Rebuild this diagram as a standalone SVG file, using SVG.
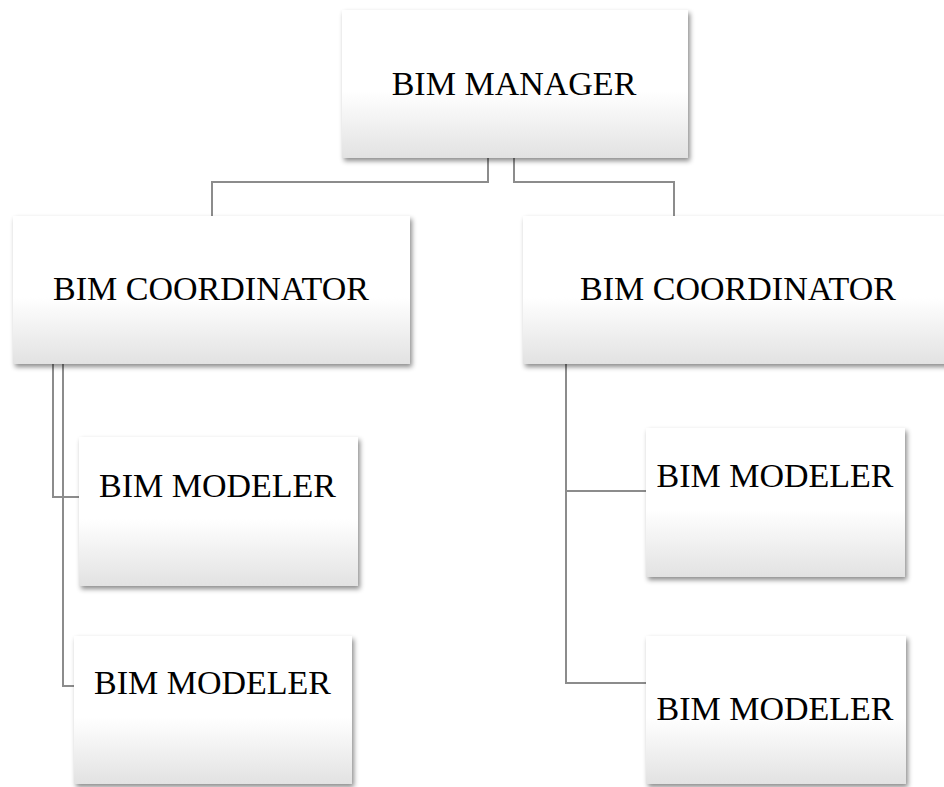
<svg xmlns="http://www.w3.org/2000/svg" width="944" height="787" viewBox="0 0 944 787">
<defs>
<linearGradient id="g" x1="0" y1="0" x2="0" y2="1">
<stop offset="0" stop-color="#ffffff"/>
<stop offset="0.55" stop-color="#ffffff"/>
<stop offset="1" stop-color="#e2e2e2"/>
</linearGradient>
<filter id="sh" x="-10%" y="-10%" width="125%" height="130%">
<feDropShadow dx="2" dy="3" stdDeviation="2.5" flood-color="#000" flood-opacity="0.45"/>
</filter>
</defs>
<style>
.box{fill:url(#g);filter:url(#sh);}
.t{font-family:"Liberation Serif","Times New Roman",serif;font-size:34px;fill:#000;text-anchor:middle;}
.c{fill:none;stroke:#8c8c8c;stroke-width:2;}
</style>
<rect width="944" height="787" fill="#fff"/>
<g id="connectors">
<polyline class="c" points="488,158 488,182 212,182 212,216"/>
<polyline class="c" points="514,158 514,182 674,182 674,216"/>
<polyline class="c" points="53,364 53,497 79,497"/>
<polyline class="c" points="63,364 63,686 74,686"/>
<polyline class="c" points="566,364 566,683 646,683"/>
<polyline class="c" points="566,491 646,491"/>
</g>
<g id="manager">
<rect class="box" x="342" y="10" width="346" height="148"/>
<text class="t" x="514" y="95">BIM MANAGER</text>
</g>
<g id="coord-left">
<rect class="box" x="13" y="216" width="397" height="148"/>
<text class="t" x="211" y="300">BIM COORDINATOR</text>
</g>
<g id="coord-right">
<rect class="box" x="523" y="216" width="430" height="148"/>
<text class="t" x="738" y="300">BIM COORDINATOR</text>
</g>
<g id="modeler-left-1">
<rect class="box" x="79" y="437" width="279" height="149"/>
<text class="t" x="217.5" y="497">BIM MODELER</text>
</g>
<g id="modeler-left-2">
<rect class="box" x="74" y="636" width="278" height="148"/>
<text class="t" x="212.5" y="694">BIM MODELER</text>
</g>
<g id="modeler-right-1">
<rect class="box" x="646" y="428" width="259" height="149"/>
<text class="t" x="775" y="487">BIM MODELER</text>
</g>
<g id="modeler-right-2">
<rect class="box" x="646" y="636" width="260" height="148"/>
<text class="t" x="775" y="720">BIM MODELER</text>
</g>
</svg>
